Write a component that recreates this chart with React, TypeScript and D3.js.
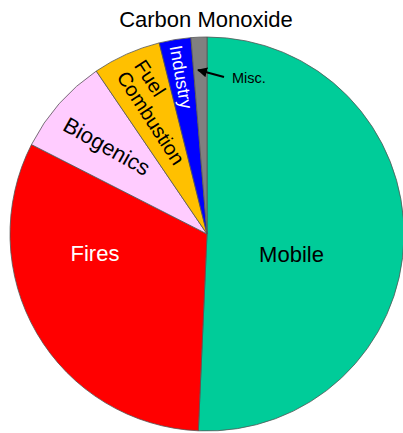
import React from "react";
import * as d3 from "d3";

const categories = ["Mobile", "Fires", "Biogenics", "Fuel Combustion", "Industry", "Misc."];
const values = [50.7, 31.8, 8.0, 5.6, 2.6, 1.3];
const colors = ["#00CC99", "#FF0000", "#FFCCFF", "#FFC000", "#0000FF", "#808080"];
const title = "Carbon Monoxide";

const W = 403;
const H = 433;
const CX = 207;
const CY = 234;
const R = 197;
const FONT = "'Liberation Sans', Arial, Helvetica, sans-serif";

export default function App() {
  const pie = d3
    .pie<number>()
    .sort(null)
    .value((d) => d)
    .startAngle(0)
    .endAngle(2 * Math.PI);
  const arcs = pie(values);
  const arc = d3.arc<d3.PieArcDatum<number>>().innerRadius(0).outerRadius(R);
  const [fuel, combustion] = categories[3].split(" ");

  return (
    <svg
      width={W}
      height={H}
      style={{ position: "absolute", left: 0, top: 0, background: "#fff" }}
      fontFamily={FONT}
    >
      <defs>
        <marker id="ah" viewBox="0 0 10 10" refX="9" refY="5" markerWidth="5" markerHeight="5" orient="auto">
          <path d="M0,0 L10,5 L0,10 z" fill="#000" />
        </marker>
      </defs>
      <text x={206} y={27} textAnchor="middle" fontSize={22} fill="#000">
        {title}
      </text>
      <g transform={`translate(${CX},${CY})`}>
        {arcs.map((a, i) => (
          <path key={categories[i]} d={arc(a) || ""} fill={colors[i]} stroke="#555" strokeWidth={0.8} />
        ))}
      </g>
      {/* labels */}
      <text x={291.5} y={262} textAnchor="middle" fontSize={22} fill="#000">
        {categories[0]}
      </text>
      <text x={95} y={261} textAnchor="middle" fontSize={22} fill="#fff">
        {categories[1]}
      </text>
      <g transform="translate(107,146) rotate(29.5)">
        <text x={0} y={8} textAnchor="middle" fontSize={22} fill="#000">
          {categories[2]}
        </text>
      </g>
      <g transform="translate(116,77) rotate(57)">
        <text x={0} y={-21} textAnchor="start" fontSize={20} fill="#000">
          {fuel}
        </text>
        <text x={0} y={0} textAnchor="start" fontSize={20} fill="#000">
          {combustion}
        </text>
      </g>
      <g transform="translate(181,77) rotate(80)">
        <text x={0} y={6} textAnchor="middle" fontSize={18} fill="#fff">
          {categories[4]}
        </text>
      </g>
      <text x={232} y={83} textAnchor="start" fontSize={14.5} fill="#000">
        {categories[5]}
      </text>
      <line x1={224} y1={77} x2={198} y2={70} stroke="#000" strokeWidth={2} markerEnd="url(#ah)" />
    </svg>
  );
}
